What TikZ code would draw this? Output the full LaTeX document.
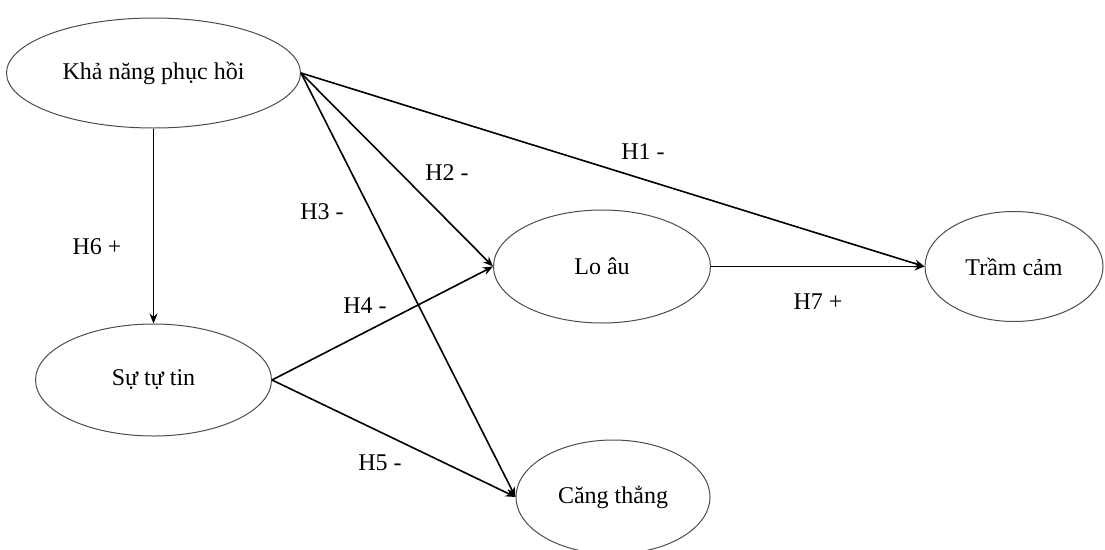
\documentclass[tikz,border=0pt]{standalone}
\usepackage{fontspec}
\setmainfont{Liberation Serif}
\usetikzlibrary{shapes.geometric,arrows.meta}
\begin{document}
\begin{tikzpicture}[x=1pt,y=-1pt,
  construct/.style={ellipse,draw=black!70,line width=1pt,inner sep=0pt,font=\fontsize{24}{28}\selectfont},
  path/.style={line width=1.6pt,-{Stealth[length=10pt,width=8pt]}},
  lbl/.style={font=\fontsize{24}{28}\selectfont,inner sep=0pt}]
\useasboundingbox (0,0) rectangle (1105,549);
\clip (0,0) rectangle (1105,549);
\node[construct,minimum width=294pt,minimum height=110pt] (kha) at (153.5,73) {Khả năng phục hồi};
\node[construct,minimum width=236pt,minimum height=112pt] (su) at (153.5,380) {Sự tự tin};
\node[construct,minimum width=217pt,minimum height=113pt] (lo) at (602,266.5) {Lo âu};
\node[construct,minimum width=178pt,minimum height=110pt] (tram) at (1014,266.5) {Trầm cảm};
\node[construct,minimum width=194pt,minimum height=114pt] (cang) at (613,497) {Căng thẳng};
\draw[path] (kha.east) -- (tram.west);
\draw[path] (kha.east) -- (lo.west);
\draw[path] (kha.east) -- (cang.west);
\draw[path] (kha.south) -- (su.north);
\draw[path] (su.east) -- (lo.west);
\draw[path] (su.east) -- (cang.west);
\draw[path] (lo.east) -- (tram.west);
\node[lbl] (h1) at (643,152) {H1 -};
\node[lbl] (h2) at (447,173) {H2 -};
\node[lbl] (h3) at (322,212) {H3 -};
\node[lbl] (h4) at (365,306) {H4 -};
\node[lbl] (h5) at (380,463) {H5 -};
\node[lbl] (h6) at (97,247) {H6 +};
\node[lbl] (h7) at (818,302) {H7 +};
\end{tikzpicture}
\end{document}
